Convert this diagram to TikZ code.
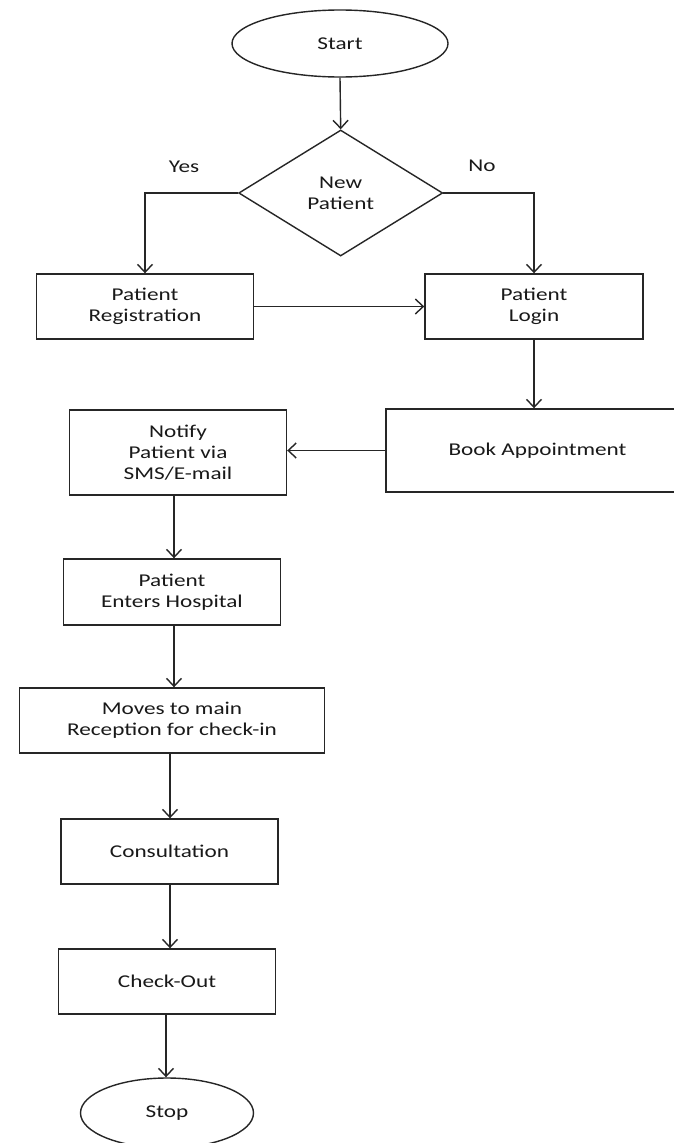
\documentclass[tikz,border=0pt]{standalone}
\usepackage{fontspec}
\setmainfont{Carlito}[FakeStretch=1.29]
\usetikzlibrary{shapes.geometric,arrows.meta}
\tikzset{
  box/.style={draw=black!85, line width=1.4pt, rectangle, align=center, inner sep=0pt},
  term/.style={draw=black!85, line width=1.4pt, ellipse, align=center, inner sep=0pt},
  decide/.style={draw=black!85, line width=1.4pt, diamond, align=center, inner sep=0pt},
  flow/.style={draw=black!85, line width=1.4pt, -{Straight Barb[length=8pt,width=15pt,line width=1.4pt]}},
  lbl/.style={inner sep=0pt}
}
\begin{document}
\begin{tikzpicture}[x=1pt,y=-1pt, every node/.style={font=\fontsize{18}{21}\selectfont, text=black!90}]
\useasboundingbox[fill=white] (0,0) rectangle (674,1143);
\node[term, minimum width=216, minimum height=67] (start) at (340,43.5) {Start};
\node[decide, minimum width=204, minimum height=126] (dec) at (340.7,193) {New\\Patient};
\node[lbl] (yes) at (184,167) {Yes};
\node[lbl] (no) at (482,166) {No};
\node[box, minimum width=217, minimum height=65] (reg) at (145,306.5) {Patient\\Registration};
\node[box, minimum width=218, minimum height=65] (login) at (534,306.5) {Patient\\Login};
\node[box, minimum width=303, minimum height=83] (book) at (537.5,450.5) {Book Appointment};
\node[box, minimum width=217, minimum height=85] (notify) at (178,452.5) {Notify\\Patient via\\SMS/E-mail};
\node[box, minimum width=217, minimum height=66] (enters) at (172,592) {Patient\\Enters Hospital};
\node[box, minimum width=305, minimum height=65] (moves) at (172,720.5) {Moves to main\\Reception for check-in};
\node[box, minimum width=217, minimum height=65] (consult) at (169.5,851.5) {Consultation};
\node[box, minimum width=217, minimum height=65] (checkout) at (167,981.5) {Check-Out};
\node[term, minimum width=173, minimum height=70] (stop) at (167,1113) {Stop};

\draw[flow] (start.south) -- (dec.north);
\draw[flow] (dec.west) -| (reg.north);
\draw[flow] (dec.east) -| (login.north);
\draw[flow] (reg.east) -- (login.west);
\draw[flow] (login.south) -- (login.south |- book.north);
\draw[flow] (book.west) -- (notify.east |- book.west);
\draw[flow] (174,0 |- notify.south) -- (174,0 |- enters.north);
\draw[flow] (174,0 |- enters.south) -- (174,0 |- moves.north);
\draw[flow] (170,0 |- moves.south) -- (170,0 |- consult.north);
\draw[flow] (170,0 |- consult.south) -- (170,0 |- checkout.north);
\draw[flow] (166,0 |- checkout.south) -- (166,0 |- stop.north);
\end{tikzpicture}
\end{document}
